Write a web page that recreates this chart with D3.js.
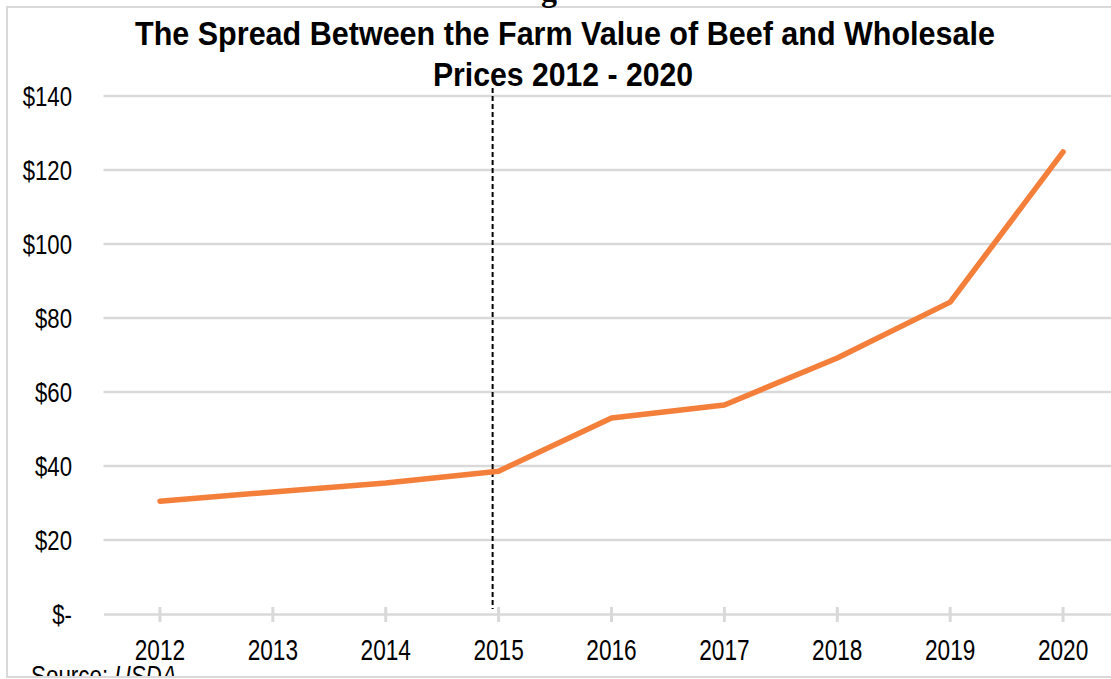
<!DOCTYPE html>
<html><head><meta charset="utf-8">
<script src="https://cdn.jsdelivr.net/npm/d3@7"></script>
<style>
html,body{margin:0;padding:0;background:#fff;overflow:hidden;}
text{font-family:"Liberation Sans",Arial,sans-serif;fill:#000;}
</style></head>
<body>
<svg id="c" width="1111" height="679"></svg>
<script>
const years = ["2012","2013","2014","2015","2016","2017","2018","2019","2020"];
const spread = [30.5, 33, 35.4, 38.6, 53, 56.5, 69.2, 84.3, 124.9];
const yTicks = [0, 20, 40, 60, 80, 100, 120, 140];
const markerYear = "2015";
const titleLines = ["The Spread Between the Farm Value of Beef and Wholesale", "Prices 2012 - 2020"];

const svg = d3.select("#c");
const W = 1111, H = 679;
svg.append("rect").attr("width", W).attr("height", H).attr("fill", "#fff");

// frame
svg.append("rect").attr("x", 7).attr("y", 7).attr("width", W + 10).attr("height", 670)
  .attr("fill", "none").attr("stroke", "#d9d9d9").attr("stroke-width", 2);

const x = d3.scaleBand().domain(years).range([103.5, 1119.5]);
const y = d3.scaleLinear().domain([0, 140]).range([614, 96]);
const cx = d => x(d) + x.bandwidth() / 2;

function squeeze(sel, f) {
  sel.each(function () {
    const L = this.getComputedTextLength();
    d3.select(this).attr("textLength", L * f).attr("lengthAdjust", "spacingAndGlyphs");
  });
}

// gridlines
svg.append("g").selectAll("line").data(yTicks.filter(d => d > 0)).join("line")
  .attr("x1", 103.5).attr("x2", 1119.5)
  .attr("y1", d => y(d)).attr("y2", d => y(d))
  .attr("stroke", "#d9d9d9").attr("stroke-width", 2.5);

// x axis
const xAxis = d3.axisBottom(x).tickSize(0).tickSizeOuter(0).tickPadding(0);
const gx = svg.append("g").attr("transform", `translate(0,${y(0)})`).call(xAxis);
gx.select(".domain").attr("stroke", "#d9d9d9").attr("stroke-width", 2.5);
gx.selectAll(".tick line").remove();
gx.selectAll(".tick").append("line").attr("y1", -7).attr("y2", 8)
  .attr("stroke", "#d9d9d9").attr("stroke-width", 3);
gx.selectAll(".tick text").attr("font-size", 29).attr("y", 46).attr("dy", 0)
  .style("font-family", "'Liberation Sans', Arial, sans-serif").attr("fill", "#000")
  .call(squeeze, 0.78);

// y axis labels
const yAxis = d3.axisLeft(y).tickValues(yTicks).tickSize(0).tickPadding(0)
  .tickFormat(d => d === 0 ? "$-" : "$" + d);
const gy = svg.append("g").attr("transform", "translate(72,0)").call(yAxis);
gy.select(".domain").remove();
gy.selectAll(".tick text").attr("font-size", 27).attr("dy", "0.35em")
  .style("font-family", "'Liberation Sans', Arial, sans-serif").attr("fill", "#000")
  .call(squeeze, 0.82);

// dashed marker
svg.append("line").attr("x1", cx(markerYear) - 6).attr("x2", cx(markerYear) - 6)
  .attr("y1", 88).attr("y2", 609)
  .attr("stroke", "#000").attr("stroke-width", 2).attr("stroke-dasharray", "5,3");

// line
const line = d3.line().x((d, i) => cx(years[i])).y(d => y(d));
svg.append("path").datum(spread).attr("d", line)
  .attr("fill", "none").attr("stroke", "#f47f3b").attr("stroke-width", 5.5)
  .attr("stroke-linejoin", "round").attr("stroke-linecap", "round");

// title
const t = svg.append("g");
t.append("text").attr("x", 565).attr("y", 45).attr("text-anchor", "middle")
  .attr("font-size", 34).attr("font-weight", "bold").text(titleLines[0])
  .attr("textLength", 860).attr("lengthAdjust", "spacingAndGlyphs");
t.append("text").attr("x", 563).attr("y", 86).attr("text-anchor", "middle")
  .attr("font-size", 34).attr("font-weight", "bold").text(titleLines[1])
  .attr("textLength", 260).attr("lengthAdjust", "spacingAndGlyphs");

// fragment of previous line
svg.append("text").attr("x", 549).attr("y", 1).attr("text-anchor", "middle")
  .style("font-family", "'Liberation Serif', serif").attr("font-weight", "bold")
  .attr("font-size", 32).text("g");

// source
const src = svg.append("text").attr("x", 31).attr("y", 685).attr("font-size", 28);
src.append("tspan").text("Source: ");
src.append("tspan").attr("font-style", "italic").text("USDA");
src.call(squeeze, 0.8);

// cover below frame
svg.append("rect").attr("x", 0).attr("y", 678).attr("width", W).attr("height", 10).attr("fill", "#fff");
svg.append("line").attr("x1", 7).attr("x2", W).attr("y1", 677).attr("y2", 677)
  .attr("stroke", "#d9d9d9").attr("stroke-width", 2);
</script>
</body></html>
